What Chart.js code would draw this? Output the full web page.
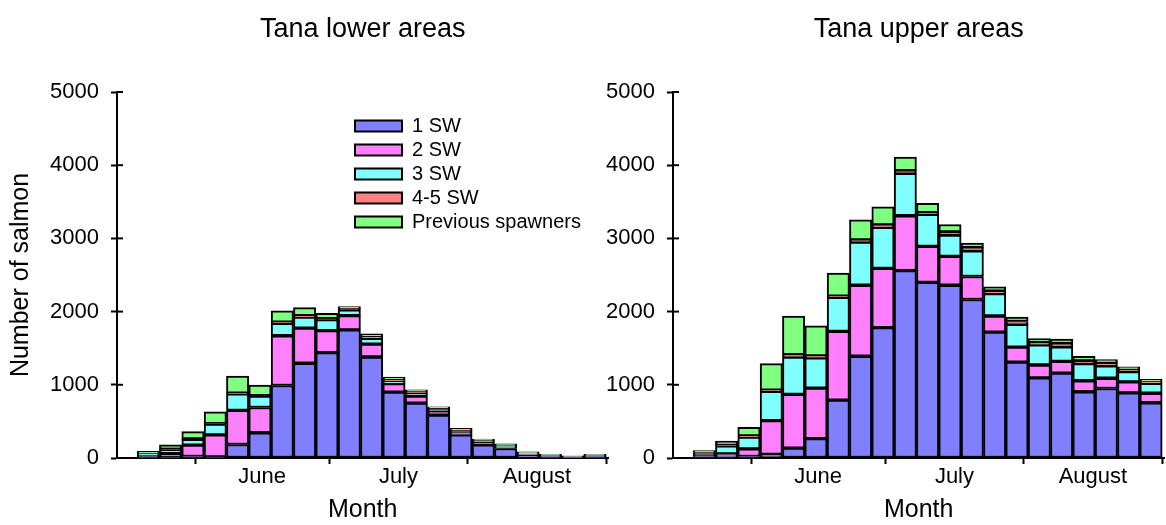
<!DOCTYPE html>
<html>
<head>
<meta charset="utf-8">
<title>Tana salmon catch by sea age</title>
<script src="https://cdn.jsdelivr.net/npm/chart.js@4/dist/chart.umd.min.js"></script>
<style>
  html, body { margin: 0; background: #fff; overflow: hidden; }
  #wrap { position: relative; width: 1166px; height: 525px; }
  canvas { position: absolute; top: 0; }
</style>
</head>
<body>
<div id="wrap">
  <canvas id="lower" width="620" height="525" style="left:0"></canvas>
  <canvas id="upper" width="610" height="525" style="left:556px"></canvas>
</div>
<script>
// 5-day catch periods, start day counted from 1 May (0 = 1 May)
const periodStart = [18, 23, 28, 33, 38, 43, 48, 53, 58, 63, 68, 73, 78, 83, 88, 93, 98, 103, 108, 113, 118];

const seaAges = ["1 SW", "2 SW", "3 SW", "4-5 SW", "Previous spawners"];
const fills = ["#8080ff", "#ff80ff", "#80ffff", "#ff8080", "#80ff80"];

// month boundaries (days from 1 May) and the month names shown between them
const monthEdges = [31, 61, 92, 123];
const monthNames = ["June", "July", "August"];

const yTicks = [0, 1000, 2000, 3000, 4000, 5000];

// Tana lower areas
const lower1SW  = [15, 15, 20, 15, 185, 345, 990, 1295, 1440, 1750, 1380, 900, 750, 585, 315, 180, 130, 40, 15, 10, 15];
const lower2SW  = [25, 45, 155, 300, 465, 345, 680, 480, 300, 195, 175, 115, 95, 60, 30, 35, 20, 15, 10, 5, 10];
const lower3SW  = [20, 55, 80, 150, 225, 155, 170, 150, 150, 80, 80, 35, 45, 20, 20, 15, 15, 10, 5, 5, 5];
const lower45SW = [5, 5, 5, 5, 10, 5, 15, 20, 15, 20, 20, 15, 15, 10, 10, 5, 10, 5, 5, 3, 5];
const lowerPrev = [25, 60, 100, 160, 235, 145, 155, 110, 70, 25, 40, 40, 25, 25, 30, 25, 20, 15, 15, 7, 15];

// Tana upper areas
const upper1SW  = [20, 25, 20, 50, 135, 265, 790, 1390, 1780, 2560, 2400, 2360, 2165, 1720, 1310, 1095, 1160, 905, 950, 890, 755];
const upper2SW  = [15, 30, 105, 460, 735, 690, 940, 970, 810, 750, 490, 395, 315, 220, 205, 175, 160, 150, 140, 150, 130];
const upper3SW  = [40, 110, 160, 400, 510, 415, 465, 590, 560, 580, 440, 290, 350, 305, 310, 275, 200, 235, 170, 140, 135];
const upper45SW = [5, 10, 15, 15, 30, 25, 15, 30, 35, 35, 20, 45, 45, 35, 40, 30, 45, 35, 40, 30, 25];
const upperPrev = [20, 55, 120, 365, 530, 410, 315, 275, 245, 185, 130, 100, 60, 60, 60, 55, 60, 65, 45, 35, 30];

Chart.defaults.font.family = "'Liberation Sans', Arial, sans-serif";
Chart.defaults.color = "#000";

// x ticks: month edges get a tick mark, month middles get the name
const xTicks = [];
const xLabels = [];
monthEdges.forEach((d, i) => {
  xTicks.push(d);
  xLabels.push("");
  if (i < monthNames.length) {
    xTicks.push((d + monthEdges[i + 1]) / 2);
    xLabels.push(monthNames[i]);
  }
});

const AXIS_W = 117;      // room for y ticks + title
const PLOT_W = 491.4;    // 110 days on the x axis

// short tick marks on the inside of the y axis as well
const innerTicks = {
  id: "innerTicks",
  afterDraw(chart) {
    const { ctx, chartArea } = chart;
    const y = chart.scales.y;
    ctx.save();
    ctx.strokeStyle = "#000";
    ctx.lineWidth = 2;
    y.ticks.forEach((t) => {
      const py = y.getPixelForValue(t.value);
      ctx.beginPath();
      ctx.moveTo(chartArea.left, py);
      ctx.lineTo(chartArea.left + 6, py);
      ctx.stroke();
    });
    ctx.restore();
  },
};

// put the legend inside the plot, upper middle
const legendSpot = {
  id: "legendSpot",
  afterLayout(chart) {
    if (!chart.options.plugins.legend.display) return;
    chart.legend.left = chart.chartArea.left + 234;
    chart.legend.top = chart.chartArea.top + 20;
  },
};

function makeChart(id, title, series, showLegend, showYTitle) {
  const canvas = document.getElementById(id);
  const datasets = seaAges.map((name, k) => ({
    label: name,
    // bar sits in the middle of its 5-day period
    data: series[k].map((v, i) => ({ x: periodStart[i] + 2.5, y: v })),
    backgroundColor: fills[k],
    borderColor: "#000",
    borderWidth: 2,
    borderSkipped: false,
    barPercentage: 1,
    categoryPercentage: 1,
  }));

  return new Chart(canvas, {
    type: "bar",
    data: { datasets },
    options: {
      responsive: false,
      animation: false,
      layout: { padding: { left: 0, top: 0, bottom: 0, right: canvas.width - AXIS_W - PLOT_W } },
      plugins: {
        title: {
          display: true,
          text: title,
          fullSize: false,
          font: { size: 27, weight: "normal" },
          color: "#000",
          padding: { top: 13, bottom: 46.6 },
        },
        legend: {
          display: showLegend,
          position: "chartArea",
          align: "start",
          labels: {
            boxWidth: 47,
            boxHeight: 11,
            padding: 4,
            font: { size: 20 },
            color: "#000",
          },
        },
        tooltip: { enabled: false },
      },
      scales: {
        x: {
          type: "linear",
          stacked: true,
          min: 13.5,
          max: 123.5,
          offset: false,
          afterBuildTicks(scale) {
            scale.ticks = xTicks.map((v) => ({ value: v }));
          },
          afterFit(scale) {
            scale.height = 67;
          },
          ticks: {
            autoSkip: false,
            maxRotation: 0,
            padding: 0,
            font: { size: 22 },
            color: "#000",
            callback: (value, index) => xLabels[index],
          },
          grid: {
            drawOnChartArea: false,
            offset: false,
            tickLength: 6,
            tickWidth: 2,
            tickColor: (c) => (xLabels[c.index] ? "rgba(0,0,0,0)" : "#000"),
          },
          border: { color: "#000", width: 2 },
          title: {
            display: true,
            text: "Month",
            font: { size: 25 },
            color: "#000",
            padding: { top: 0, bottom: 0 },
          },
        },
        y: {
          stacked: true,
          min: 0,
          max: 5000,
          afterBuildTicks(scale) {
            scale.ticks = yTicks.map((v) => ({ value: v }));
          },
          afterFit(scale) {
            scale.width = AXIS_W;
          },
          ticks: {
            font: { size: 22 },
            color: "#000",
            padding: 12,
            callback: (value) => String(value),
          },
          grid: { drawOnChartArea: false, tickLength: 6, tickWidth: 2, tickColor: "#000" },
          border: { color: "#000", width: 2 },
          title: {
            display: showYTitle,
            text: "Number of salmon",
            font: { size: 25 },
            color: "#000",
            padding: { top: 6, bottom: 0 },
          },
        },
      },
    },
    plugins: [innerTicks, legendSpot],
  });
}

makeChart("lower", "Tana lower areas",
  [lower1SW, lower2SW, lower3SW, lower45SW, lowerPrev], true, true);
makeChart("upper", "Tana upper areas",
  [upper1SW, upper2SW, upper3SW, upper45SW, upperPrev], false, false);
</script>
</body>
</html>
